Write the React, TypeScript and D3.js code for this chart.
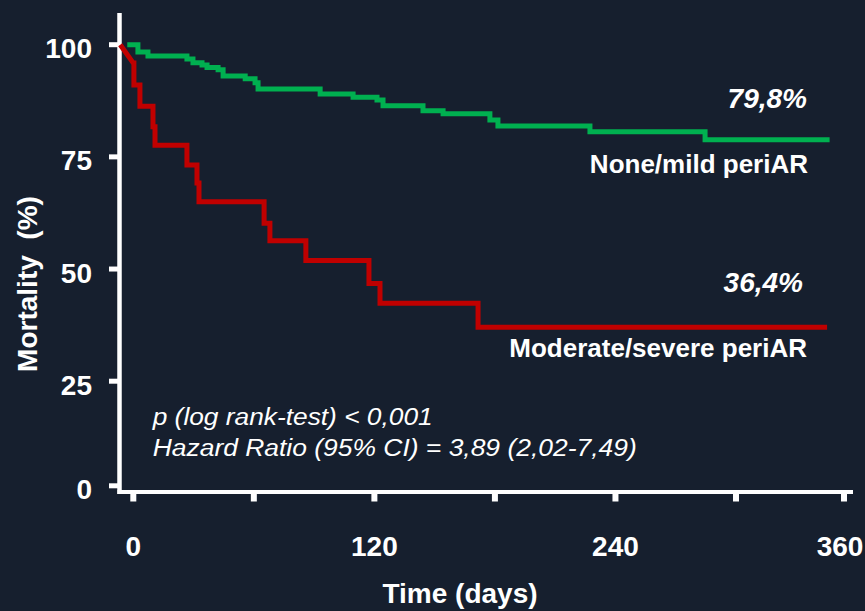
import React from "react";
import * as d3 from "d3";

// ---- data ----
const xTickValues = [0, 60, 120, 180, 240, 300, 360];
const xLabelValues = [0, 120, 240, 360];
const yTickValues = [0, 25, 50, 75, 100];

// None/mild periAR (green) : event times (days) and mortality (%)
const greenTimes = [-3, 2.3, 7.3, 26.7, 29.7, 34.2, 36.7, 42.2, 44.7, 55.7, 60.6, 62.1, 93.0, 109.4, 121.3, 124.3, 144.2, 154.2, 177.5, 181.5, 227.3, 284.6, 352];
const greenValues = [100, 98.4, 97.5, 96.8, 96.0, 95.5, 94.9, 94.4, 93.0, 92.4, 91.5, 90.1, 89.0, 88.3, 87.7, 86.4, 85.3, 84.6, 83.2, 81.9, 80.6, 78.8, 78.8];

// Moderate/severe periAR (red)
const redTimes = [-6.5, 0, 0.3, 3.3, 9.8, 10.8, 26.7, 31.7, 32.7, 65.1, 68.0, 85.9, 117.3, 122.8, 171.6, 350.6];
const redValues = [100, 95.9, 91.0, 86.3, 81.7, 77.6, 73.2, 69.2, 65.0, 60.2, 56.3, 51.9, 46.8, 42.4, 37.0, 37.0];

const greenEndLabel = "79,8%";
const greenName = "None/mild periAR";
const redEndLabel = "36,4%";
const redName = "Moderate/severe periAR";
const statLines = ["p (log rank-test) < 0,001", "Hazard Ratio (95% CI) = 3,89 (2,02-7,49)"];
const yTitle = "Mortality  (%)";
const xTitle = "Time (days)";

// ---- styling ----
const W = 865;
const H = 611;
const BG = "#161f2e";
const GREEN = "#00b050";
const RED = "#c00000";
const FONT = "'Liberation Sans', Arial, Helvetica, sans-serif";

const x = d3.scaleLinear().domain([0, 300, 360]).range([133.3, 736, 844]);
const y = d3.scaleLinear().domain([0, 25, 100]).range([485.8, 381.2, 44.7]);

function stepPoints(times: number[], values: number[], diagonalStart: boolean): [number, number][] {
  const pts: [number, number][] = [[times[0], values[0]]];
  for (let i = 1; i < times.length; i++) {
    if (i === 1 && diagonalStart) {
      pts.push([times[i], values[i]]);
    } else {
      pts.push([times[i], values[i - 1]]);
      pts.push([times[i], values[i]]);
    }
  }
  return pts;
}

const line = d3
  .line<[number, number]>()
  .x((d) => x(d[0]))
  .y((d) => y(d[1]));

export default function App() {
  const greenPath = line(stepPoints(greenTimes, greenValues, false)) || "";
  const redPath = line(stepPoints(redTimes, redValues, true)) || "";

  const axisLeft = 119.5;
  const axisBottom = 492;

  return (
    <svg
      width={W}
      height={H}
      viewBox={`0 0 ${W} ${H}`}
      style={{ position: "absolute", left: 0, top: 0, display: "block" }}
      fontFamily={FONT}
    >
      <rect x={0} y={0} width={W} height={H} fill={BG} />

      {/* axes */}
      <line x1={axisLeft} x2={axisLeft} y1={13} y2={axisBottom + 2} stroke="#fff" strokeWidth={4.5} />
      <line x1={axisLeft - 2} x2={853} y1={axisBottom} y2={axisBottom} stroke="#fff" strokeWidth={4} />

      {yTickValues.map((v) => (
        <g key={"yt" + v}>
          <line x1={109} x2={axisLeft} y1={y(v)} y2={y(v)} stroke="#fff" strokeWidth={5} />
          <text
            x={92}
            y={y(v) + 4}
            textAnchor="end"
            dominantBaseline="central"
            fill="#fff"
            fontSize={28}
            fontWeight="bold"
          >
            {v}
          </text>
        </g>
      ))}

      {xTickValues.map((v) => (
        <line key={"xt" + v} x1={x(v)} x2={x(v)} y1={axisBottom} y2={501.5} stroke="#fff" strokeWidth={6} />
      ))}
      {xLabelValues.map((v) => (
        <text
          key={"xl" + v}
          x={Math.min(x(v), 840)}
          y={556}
          textAnchor="middle"
          fill="#fff"
          fontSize={28}
          fontWeight="bold"
        >
          {v}
        </text>
      ))}

      {/* curves */}
      <path d={greenPath} fill="none" stroke={GREEN} strokeWidth={5} strokeLinejoin="miter" />
      <path d={redPath} fill="none" stroke={RED} strokeWidth={5} strokeLinejoin="miter" />

      {/* labels */}
      <text x={807} y={108} textAnchor="end" fill="#fff" fontSize={28} fontWeight="bold" fontStyle="italic">
        {greenEndLabel}
      </text>
      <text x={808} y={173} textAnchor="end" fill="#fff" fontSize={26} fontWeight="bold">
        {greenName}
      </text>
      <text x={803} y={291.5} textAnchor="end" fill="#fff" fontSize={28} fontWeight="bold" fontStyle="italic">
        {redEndLabel}
      </text>
      <text x={807} y={357} textAnchor="end" fill="#fff" fontSize={26} fontWeight="bold">
        {redName}
      </text>

      <text x={152.7} y={425} fill="#fff" fontSize={23} fontStyle="italic" textLength={280} lengthAdjust="spacingAndGlyphs">
        {statLines[0]}
      </text>
      <text x={152.7} y={455.7} fill="#fff" fontSize={23} fontStyle="italic" textLength={484} lengthAdjust="spacingAndGlyphs">
        {statLines[1]}
      </text>

      {/* titles */}
      <text
        transform="translate(36.5,284) rotate(-90)"
        textAnchor="middle"
        fill="#fff"
        fontSize={28}
        fontWeight="bold"
        style={{ whiteSpace: "pre" }}
      >
        {yTitle}
      </text>
      <text x={460} y={603} textAnchor="middle" fill="#fff" fontSize={28} fontWeight="bold">
        {xTitle}
      </text>
    </svg>
  );
}
